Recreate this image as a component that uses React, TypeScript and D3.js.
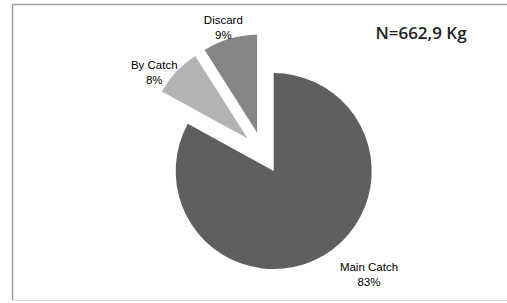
import React, { useEffect, useRef } from 'react';
import * as d3 from 'd3';

const categories = ['Main Catch', 'By Catch', 'Discard'];
const shares = [83, 8, 9];
const colors = ['#5f5f5f', '#b3b3b3', '#858585'];
const totalLabel = 'N=662,9 Kg';

function PieChart() {
  const ref = useRef<SVGSVGElement>(null);

  useEffect(() => {
    const svg = d3.select(ref.current);
    svg.selectAll('*').remove();

    const width = 507;
    const cx = 263, cy = 153;
    const radius = 98;
    const explode = 21;

    // frame
    svg.append('line').attr('x1', 12).attr('x2', width).attr('y1', 4.5).attr('y2', 4.5)
      .attr('stroke', '#a0a0a0').attr('stroke-width', 1.5);
    svg.append('line').attr('x1', 12.5).attr('x2', 12.5).attr('y1', 4).attr('y2', 300)
      .attr('stroke', '#a0a0a0').attr('stroke-width', 1.5);
    svg.append('line').attr('x1', 12).attr('x2', width).attr('y1', 300.5).attr('y2', 300.5)
      .attr('stroke', '#d8d8d8').attr('stroke-width', 1);

    const data = categories.map((c, i) => ({ name: c, value: shares[i], color: colors[i] }));

    const pie = d3.pie<any>().value(d => d.value).sort(null).startAngle(0).endAngle(2 * Math.PI);
    const arcs = pie(data);

    const arc = d3.arc<any>().innerRadius(0).outerRadius(radius);

    const g = svg.append('g').attr('transform', `translate(${cx},${cy})`);

    const offset = (d: any, dist: number) => {
      const a = (d.startAngle + d.endAngle) / 2;
      return [Math.sin(a) * dist, -Math.cos(a) * dist];
    };

    g.selectAll('path.slice')
      .data(arcs)
      .enter()
      .append('path')
      .attr('class', 'slice')
      .attr('d', arc)
      .attr('fill', d => d.data.color)
      .attr('transform', d => {
        const [x, y] = offset(d, explode);
        return `translate(${x},${y})`;
      });

    // label radii per slice (best-fit placement)
    const labelDist = [160, 136, 133];
    const labelAngleShift = [-0.19, -0.11, -0.02];

    arcs.forEach((d, i) => {
      const a = (d.startAngle + d.endAngle) / 2 + labelAngleShift[i];
      const lx = Math.sin(a) * labelDist[i];
      const ly = -Math.cos(a) * labelDist[i];
      const t = g.append('text')
        .attr('text-anchor', 'middle')
        .attr('font-family', 'Liberation Sans, Arial, sans-serif')
        .attr('font-size', 11.5)
        .attr('fill', '#000');
      t.append('tspan').attr('x', lx).attr('y', ly - 2).text(d.data.name);
      t.append('tspan').attr('x', lx).attr('y', ly + 13).text(d.data.value + '%');
    });

    svg.append('text')
      .attr('x', 421)
      .attr('y', 39)
      .attr('text-anchor', 'middle')
      .attr('font-family', 'Open Sans, sans-serif')
      .attr('font-weight', 600)
      .attr('font-size', 17)
      .attr('fill', '#222')
      .text(totalLabel);
  }, []);

  return <svg ref={ref} width={507} height={303} style={{ display: 'block' }} />;
}

export default function App() {
  return (
    <div style={{ position: 'absolute', left: 0, top: 0, background: '#fff' }}>
      <PieChart />
    </div>
  );
}
